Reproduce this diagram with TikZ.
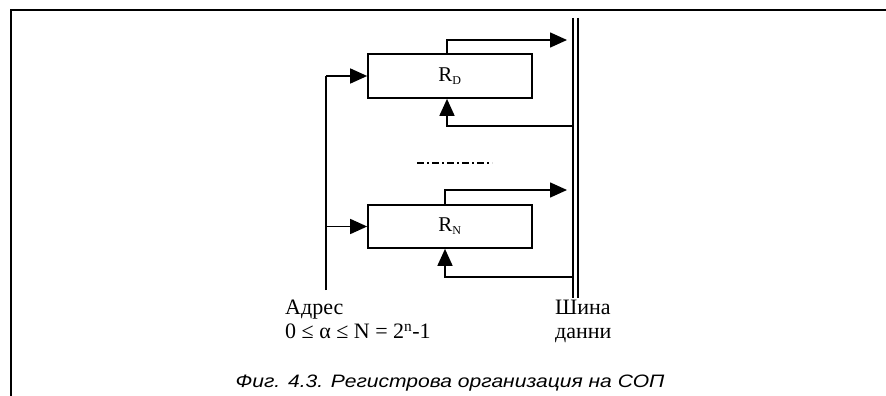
\documentclass[tikz,border=0pt]{standalone}
\usepackage{fontspec}
\usepackage{graphicx}
\setmainfont{Liberation Serif}
\newfontfamily\capfont{Liberation Sans}
\usetikzlibrary{arrows.meta}
\begin{document}
\begin{tikzpicture}[x=1pt,y=-1pt,
  reg/.style={draw,line width=1.7pt,minimum width=164pt,minimum height=44pt,inner sep=0pt,font=\fontsize{21}{24}\selectfont},
  wire/.style={line width=1.6pt},
  sig/.style={wire,-{Triangle[length=17pt,width=15pt]}},
  lbl/.style={font=\fontsize{22}{24}\selectfont,align=left,inner sep=0pt}]
\useasboundingbox (0,0) rectangle (886,396);
% frame
\draw[line width=1.8pt] (11,396) -- (11,10) -- (886,10);
% registers
\node[reg] (rd) at (450,76) {R\textsubscript{\fontsize{12}{12}\selectfont D}};
\node[reg,minimum height=43pt] (rn) at (450,226.5) {R\textsubscript{\fontsize{12}{12}\selectfont N}};
% data bus
\coordinate (busTop) at (573,18);
\coordinate (busBot) at (573,298);
\draw[line width=1.5pt] (busTop) -- (busBot);
\draw[line width=1.5pt] ([xshift=5pt]busTop) -- ([xshift=5pt]busBot);
% address line
\coordinate (adrTop) at (326,76);
\coordinate (adrBot) at (326,290);
\draw[wire] (adrBot) -- (adrTop);
\draw[sig] (adrTop) -- (rd.west);
\coordinate (adrN) at (326,226.5);
\draw[sig] (adrN) -- (rn.west);
% register D to/from bus
\coordinate (dOut) at (567,40);
\coordinate (dIn) at (573,126);
\draw[sig] ([xshift=-3pt]rd.north) |- (dOut);
\draw[sig] (dIn) -| ([xshift=-3pt]rd.south);
% register N to/from bus
\coordinate (nOut) at (567,190);
\coordinate (nIn) at (573,277);
\draw[sig] ([xshift=-5pt]rn.north) |- (nOut);
\draw[sig] (nIn) -| ([xshift=-5pt]rn.south);
% ellipsis between registers
\coordinate (dotsL) at (417,163);
\coordinate (dotsR) at (492,163);
\draw[line width=1.4pt,dash pattern=on 7pt off 3pt on 2pt off 3pt] (dotsL) -- (dotsR);
% labels
\node[lbl,anchor=north west] (adr) at (285,300) {Адрес\\0 ≤ α ≤ N = 2\textsuperscript{n}-1};
\node[lbl,anchor=north west] (bus) at (555,300) {Шина\\данни};
\node[font=\capfont\itshape\fontsize{18}{20}\selectfont,inner sep=0pt,anchor=base] (cap) at (450,387) {\scalebox{1.17}[1]{Фиг. 4.3. Регистрова организация на СОП}};
\end{tikzpicture}
\end{document}
